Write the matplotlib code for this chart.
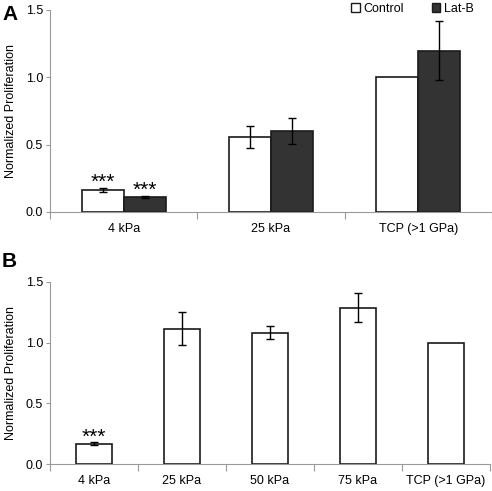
import matplotlib
matplotlib.use('Agg')
import matplotlib.pyplot as plt
from matplotlib.patches import Patch
import numpy as np

plt.rcParams['font.family'] = ['Liberation Sans', 'DejaVu Sans']

# panel A data
cats_a = ['4 kPa', '25 kPa', 'TCP (>1 GPa)']
ctrl_a = [0.163, 0.557, 1.0]
ctrl_err_a = [0.015, 0.082, 0.0]
latb_a = [0.109, 0.601, 1.198]
latb_err_a = [0.008, 0.094, 0.217]
stars_a = ['***', '', '']
stars_latb_a = ['***', '', '']

# panel B data
cats_b = ['4 kPa', '25 kPa', '50 kPa', '75 kPa', 'TCP (>1 GPa)']
vals_b = [0.169, 1.113, 1.08, 1.286, 1.0]
err_b = [0.012, 0.134, 0.053, 0.119, 0.0]
stars_b = ['***', '', '', '', '']

yticks = [0.0, 0.5, 1.0, 1.5]

fig = plt.figure(figsize=(4.92, 4.91), dpi=100)
axA = fig.add_axes([50/492, 1-212/491, 442/492, 202/491])
axB = fig.add_axes([50/492, 1-464.3/491, 440/492, 182.6/491])

edge = '#1a1a1a'
dark = '#333333'
spine_c = '#9a9a9a'


def style(ax, cats):
    n = len(cats)
    ax.set_xlim(-0.5, n - 0.5)
    ax.set_ylim(0, 1.5)
    ax.set_yticks(yticks)
    ax.set_yticklabels(['%.1f' % v for v in yticks])
    ax.set_xticks(range(n))
    ax.set_xticklabels(cats)
    ax.set_xticks(np.arange(n + 1) - 0.5, minor=True)
    ax.tick_params(axis='x', which='major', length=0, pad=8, labelsize=9)
    ax.tick_params(axis='x', which='minor', length=5, color=spine_c, width=0.8)
    ax.tick_params(axis='y', length=3, pad=2, color=spine_c, width=0.8, labelsize=9)
    for s in ['top', 'right']:
        ax.spines[s].set_visible(False)
    for s in ['left', 'bottom']:
        ax.spines[s].set_color(spine_c)
        ax.spines[s].set_linewidth(0.8)
    ax.set_ylabel('Normalized Proliferation', fontsize=9, labelpad=6)


def errs(ax, xs, ys, es):
    for xi, yi, ei in zip(xs, ys, es):
        if ei > 0:
            ax.errorbar(xi, yi, yerr=ei, fmt='none', ecolor='black',
                        elinewidth=1, capsize=3, capthick=1, zorder=3)


def star(ax, xi, top, s):
    if s:
        ax.text(xi, top, s, ha='center', va='bottom', fontsize=15)


# panel A
x = np.arange(len(cats_a))
w = 0.285
axA.bar(x - w/2, ctrl_a, w, color='white', edgecolor=edge, linewidth=1.2, zorder=2)
axA.bar(x + w/2, latb_a, w, color=dark, edgecolor=edge, linewidth=1.2, zorder=2)
errs(axA, x - w/2, ctrl_a, ctrl_err_a)
errs(axA, x + w/2, latb_a, latb_err_a)
for i in range(len(cats_a)):
    star(axA, x[i] - w/2, ctrl_a[i] + ctrl_err_a[i] - 0.03, stars_a[i])
    star(axA, x[i] + w/2, latb_a[i] + latb_err_a[i] - 0.025, stars_latb_a[i])
style(axA, cats_a)
handles = [Patch(facecolor='white', edgecolor=edge, label='Control'),
           Patch(facecolor=dark, edgecolor=edge, label='Lat-B')]
axA.legend(handles=handles, ncol=2, frameon=False, fontsize=9,
           loc='upper right', bbox_to_anchor=(0.985, 1.09),
           handlelength=0.7, handleheight=0.7, handletextpad=0.3, columnspacing=2.2)

# panel B
xb = np.arange(len(cats_b))
wb = 0.42
axB.bar(xb, vals_b, wb, color='white', edgecolor=edge, linewidth=1.2, zorder=2)
errs(axB, xb, vals_b, err_b)
for i in range(len(cats_b)):
    star(axB, xb[i], vals_b[i] + err_b[i] - 0.035, stars_b[i])
style(axB, cats_b)

fig.text(2/492, 1-5/491, 'A', fontsize=15, fontweight='bold', ha='left', va='top')
fig.text(2/492, 1-252/491, 'B', fontsize=15, fontweight='bold', ha='left', va='top')

fig.savefig('out.png', dpi=100)
